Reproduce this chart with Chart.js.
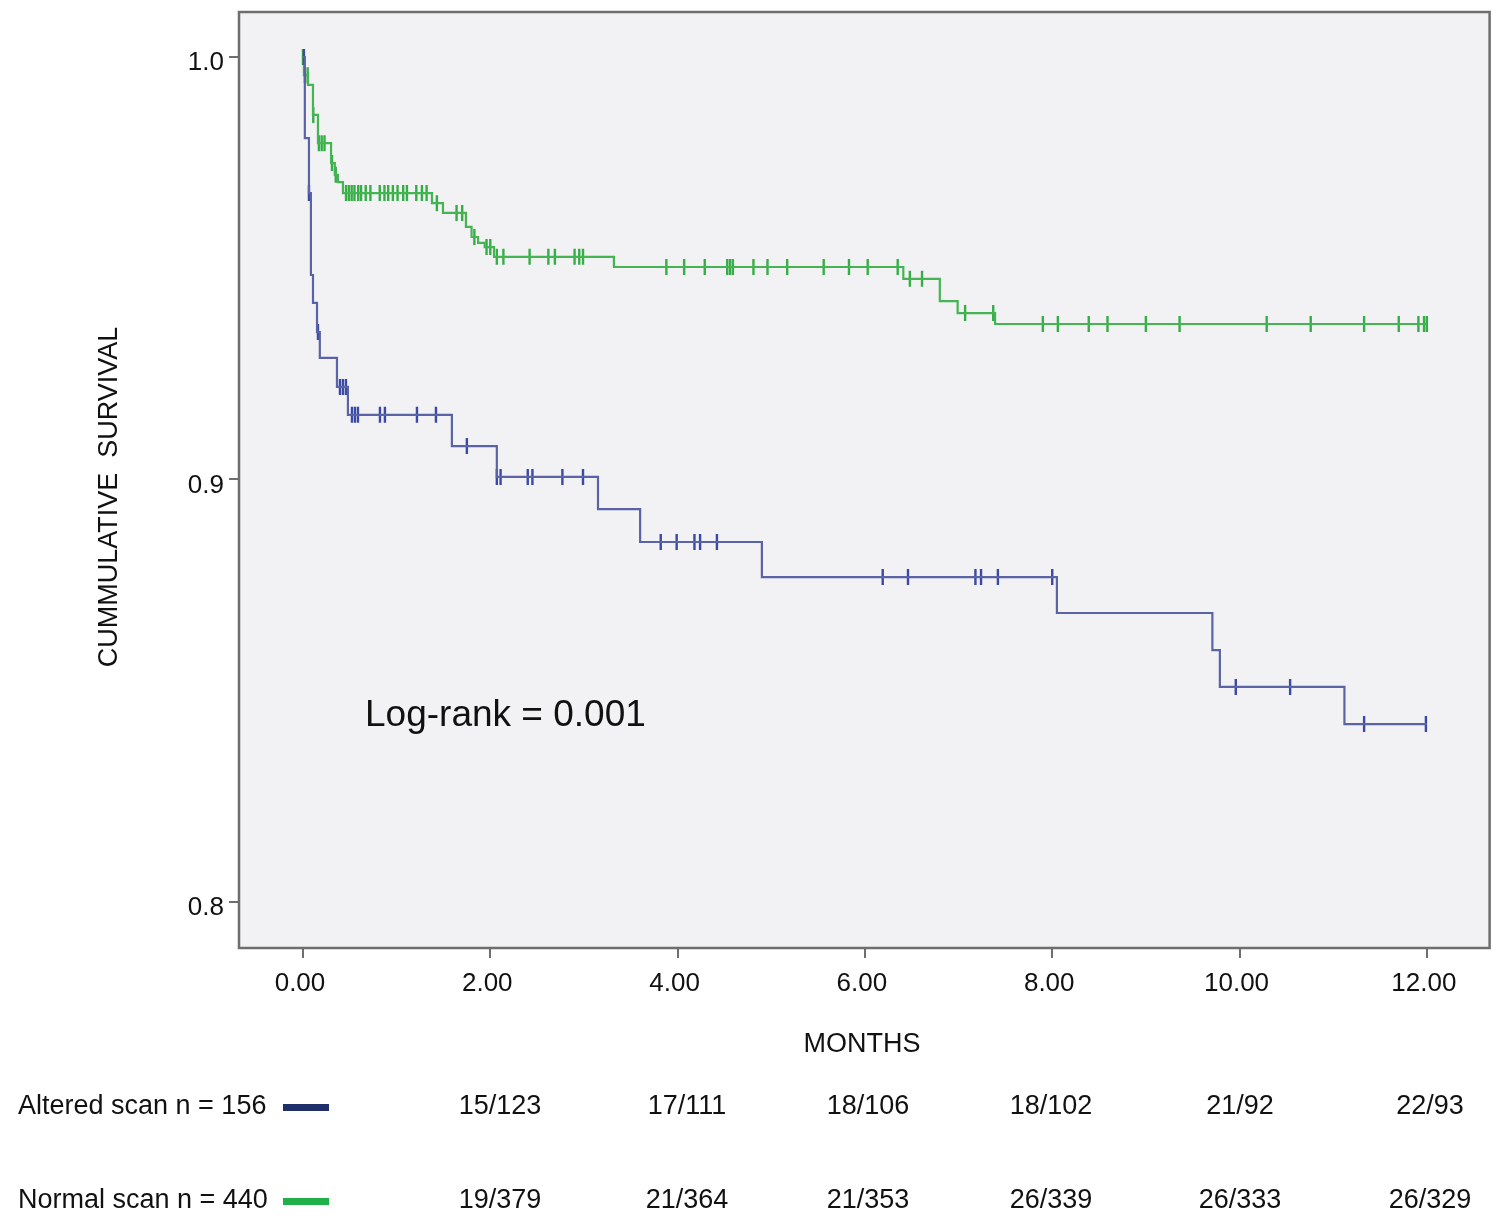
<!DOCTYPE html>
<html>
<head>
<meta charset="utf-8">
<script src="https://cdn.jsdelivr.net/npm/chart.js@4.4.1/dist/chart.umd.min.js"></script>
<style>
html,body{margin:0;padding:0;background:#ffffff;}
#c{display:block;}
</style>
</head>
<body>
<canvas id="c" width="1500" height="1230" style="width:1500px;height:1230px"></canvas>
<script>
// ---------- DATA ----------
const xTickValues = [0, 2, 4, 6, 8, 10, 12];
const yTickValues = [0.8, 0.9, 1.0];

// Altered scan (blue): step times and survival after each step
const alteredTimes = [0, 0.02, 0.064, 0.085, 0.107, 0.15, 0.18, 0.363, 0.48, 1.59, 2.07, 3.15, 3.60, 4.90, 8.05, 9.71, 9.79, 11.12, 12.0];
const alteredSurv  = [1.0, 0.9808, 0.9678, 0.9484, 0.9418, 0.9349, 0.9288, 0.9219, 0.9153, 0.9079, 0.9006, 0.8930, 0.8852, 0.8769, 0.8684, 0.8596, 0.8509, 0.8421, 0.8421];
const alteredCensored = [0.01, 0.064, 0.16, 0.395, 0.427, 0.459, 0.523, 0.555, 0.587, 0.822, 0.875, 1.217, 1.42, 1.75, 2.07, 2.11, 2.40, 2.45, 2.77, 2.99, 3.82, 3.99, 4.18, 4.24, 4.42, 6.19, 6.46, 7.18, 7.24, 7.42, 8.0, 9.96, 10.54, 11.33, 11.99];

// Normal scan (green)
const normalTimes = [0, 0.01, 0.053, 0.107, 0.16, 0.30, 0.34, 0.374, 0.427, 1.377, 1.495, 1.74, 1.80, 1.87, 1.94, 2.04, 3.32, 6.41, 6.80, 6.99, 7.39, 12.0];
const normalSurv  = [1.0, 0.9957, 0.9934, 0.9863, 0.9796, 0.9749, 0.9721, 0.9704, 0.9678, 0.9654, 0.9631, 0.9598, 0.9574, 0.9560, 0.9550, 0.9527, 0.9503, 0.9475, 0.9422, 0.9394, 0.9368, 0.9368];
const normalCensored = [0.0, 0.02, 0.05, 0.11, 0.17, 0.20, 0.23, 0.31, 0.35, 0.46, 0.49, 0.52, 0.55, 0.59, 0.62, 0.67, 0.72, 0.82, 0.87, 0.91, 0.96, 1.01, 1.07, 1.11, 1.21, 1.27, 1.32, 1.43, 1.64, 1.70, 1.83, 1.96, 2.0, 2.07, 2.14, 2.42, 2.62, 2.69, 2.90, 2.95, 2.99, 3.88, 4.07, 4.29, 4.53, 4.56, 4.59, 4.81, 4.96, 5.17, 5.56, 5.83, 6.03, 6.35, 6.48, 6.61, 7.07, 7.37, 7.90, 8.06, 8.39, 8.59, 9.0, 9.36, 10.29, 10.76, 11.33, 11.70, 11.91, 11.97, 12.0];

// Risk table
const groupLabels = ["Altered scan n = 156", "Normal scan n = 440"];
const alteredRisk = ["15/123", "17/111", "18/106", "18/102", "21/92", "22/93"];
const normalRisk  = ["19/379", "21/364", "21/353", "26/339", "26/333", "26/329"];
const annotationText = "Log-rank = 0.001";
const xTitle = "MONTHS";
const yTitle = "CUMMULATIVE  SURVIVAL";

// ---------- LAYOUT (pixels, style only) ----------
const riskColX = [500, 687, 868, 1051, 1240, 1430];

// ---------- HELPERS ----------
function survAt(times, surv, t) {
  let v = surv[0];
  for (let i = 0; i < times.length; i++) { if (times[i] <= t) v = surv[i]; }
  return v;
}
const FONT = "'Liberation Sans', Arial, sans-serif";

const bgAndText = {
  id: 'bgAndText',
  beforeDatasetsDraw(chart) {
    const {ctx, chartArea: a} = chart;
    ctx.save();
    ctx.fillStyle = '#f2f2f4';
    ctx.fillRect(a.left, a.top, a.right - a.left, a.bottom - a.top);
    ctx.restore();
  },
  afterDraw(chart) {
    const {ctx, chartArea: a} = chart;
    ctx.save();
    ctx.strokeStyle = '#6e6e6e';
    ctx.lineWidth = 2.5;
    ctx.strokeRect(a.left, a.top, a.right - a.left, a.bottom - a.top);

    ctx.fillStyle = '#111111';
    ctx.font = '37px ' + FONT;
    ctx.textAlign = 'left';
    ctx.textBaseline = 'middle';
    ctx.fillText(annotationText, 365, 716);

    ctx.font = '27px ' + FONT;
    ctx.textAlign = 'center';
    ctx.fillText(xTitle, 862, 1045);
    ctx.save();
    ctx.translate(110, 497);
    ctx.rotate(-Math.PI / 2);
    ctx.fillText(yTitle, 0, 0);
    ctx.restore();

    const rows = [
      {label: groupLabels[0], vals: alteredRisk, y: 1107, color: '#1f2f6a'},
      {label: groupLabels[1], vals: normalRisk, y: 1201, color: '#20b04a'}
    ];
    rows.forEach(r => {
      ctx.fillStyle = '#111111';
      ctx.font = '27px ' + FONT;
      ctx.textAlign = 'left';
      ctx.fillText(r.label, 18, r.y);
      ctx.fillStyle = r.color;
      ctx.fillRect(283, r.y - 3, 46, 7);
      ctx.fillStyle = '#111111';
      ctx.textAlign = 'center';
      r.vals.forEach((v, i) => ctx.fillText(v, riskColX[i], r.y));
    });
    ctx.restore();
  }
};

const alteredLine = alteredTimes.map((t, i) => ({x: t, y: alteredSurv[i]}));
const normalLine = normalTimes.map((t, i) => ({x: t, y: normalSurv[i]}));
const alteredMarks = alteredCensored.map(t => ({x: t, y: survAt(alteredTimes, alteredSurv, t)}));
const normalMarks = normalCensored.map(t => ({x: t, y: survAt(normalTimes, normalSurv, t)}));

new Chart(document.getElementById('c').getContext('2d'), {
  type: 'line',
  data: {
    datasets: [
      {data: alteredLine, stepped: true, borderColor: '#5a63a5', borderWidth: 2.2, pointRadius: 0, fill: false},
      {data: alteredMarks, showLine: false, pointStyle: 'line', rotation: 90, pointRadius: 8, pointBorderWidth: 2.4, pointBorderColor: '#3a48a6', pointBackgroundColor: '#3a48a6'},
      {data: normalLine, stepped: true, borderColor: '#45b453', borderWidth: 2.2, pointRadius: 0, fill: false},
      {data: normalMarks, showLine: false, pointStyle: 'line', rotation: 90, pointRadius: 8, pointBorderWidth: 2.4, pointBorderColor: '#35ae45', pointBackgroundColor: '#35ae45'}
    ]
  },
  options: {
    responsive: false,
    animation: false,
    devicePixelRatio: 1,
    layout: {padding: {left: 0, right: 10, top: 12, bottom: 0}},
    plugins: {legend: {display: false}, tooltip: {enabled: false}},
    scales: {
      x: {
        type: 'linear', min: -0.683, max: 12.67,
        afterBuildTicks: s => { s.ticks = xTickValues.map(v => ({value: v})); },
        afterFit: s => { s.height = 282; s.paddingLeft = 0; s.paddingRight = 0; },
        border: {display: false},
        grid: {drawOnChartArea: false, drawTicks: true, tickLength: 10, color: '#6e6e6e', lineWidth: 2},
        ticks: {font: {family: FONT, size: 26}, color: '#111111', padding: 10, labelOffset: -3, maxRotation: 0, autoSkip: false, callback: v => Number(v).toFixed(2)}
      },
      y: {
        type: 'linear', min: 0.78911, max: 1.01065,
        afterBuildTicks: s => { s.ticks = yTickValues.map(v => ({value: v})); },
        afterFit: s => { s.width = 239; s.paddingTop = 0; s.paddingBottom = 0; },
        border: {display: false},
        grid: {drawOnChartArea: false, drawTicks: true, tickLength: 10, color: '#6e6e6e', lineWidth: 2},
        ticks: {font: {family: FONT, size: 26}, color: '#111111', padding: 5, labelOffset: 6, autoSkip: false, callback: v => Number(v).toFixed(1)}
      }
    }
  },
  plugins: [bgAndText]
});
</script>
</body>
</html>
